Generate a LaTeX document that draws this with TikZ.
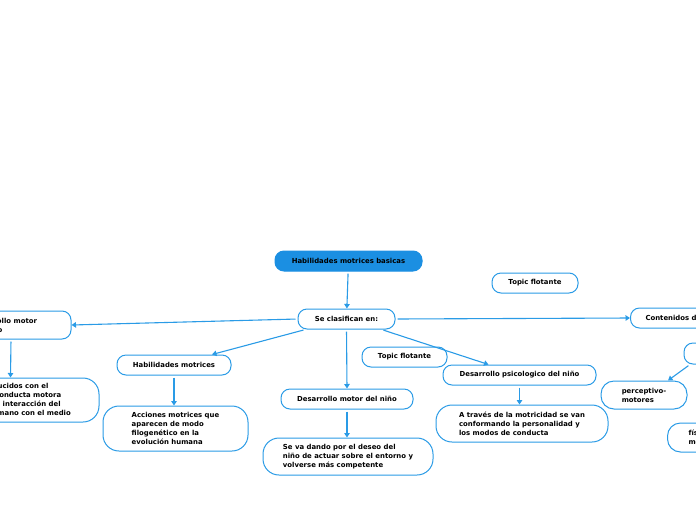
\documentclass[tikz,border=0pt]{standalone}
\usepackage{fontspec}
\setmainfont{DejaVu Sans}
\usetikzlibrary{arrows.meta,calc}
\definecolor{mblue}{HTML}{2A9BE6}
\definecolor{rootfill}{HTML}{1B8FE2}
\begin{document}
\begin{tikzpicture}[x=1pt,y=-1pt,
  topic/.style={draw=mblue,line width=1pt,rounded corners=9pt,fill=white,
    inner sep=0pt,font=\fontsize{6.9}{9}\selectfont\bfseries,align=left},
  big/.style={topic,rounded corners=16pt},
  arr/.style={draw=mblue,line width=1.1pt,-{Triangle[width=5.5pt,length=4.5pt]},shorten <=2pt}]
\useasboundingbox (0,0) rectangle (696,520);
% nodes
\node[topic,fill=rootfill,draw=rootfill,minimum width=147pt,minimum height=20pt] (root) at (348.5,261) {Habilidades motrices basicas};
\node[topic,minimum width=97pt,minimum height=20pt] (se) at (346.5,319) {Se clasifican en:};
\node[topic,minimum width=134pt,minimum height=28pt] (dmh) at (4,325) {Desarrollo motor\\humano};
\node[big,minimum width=183pt,minimum height=44pt] (camb) at (7.5,400) {Cambios producidos con el\\tiempo en la conducta motora\\que reflejan la interacción del\\organismo humano con el medio};
\node[topic,minimum width=114pt,minimum height=20pt] (hm) at (174,365) {Habilidades motrices};
\node[big,minimum width=145pt,minimum height=45pt] (acc) at (175.5,428.5) {Acciones motrices que\\aparecen de modo\\filogenético en la\\evolución humana};
\node[topic,minimum width=132pt,minimum height=20pt] (dmn) at (347,399) {Desarrollo motor del niño};
\node[big,minimum width=170pt,minimum height=37pt] (seva) at (348,456.5) {Se va dando por el deseo del\\niño de actuar sobre el entorno y\\volverse más competente};
\node[topic,minimum width=85pt,minimum height=20pt] (tf1) at (404.5,357) {Topic flotante};
\node[topic,minimum width=153pt,minimum height=20pt] (dpn) at (519.5,375) {Desarrollo psicologico del niño};
\node[big,minimum width=172pt,minimum height=37pt] (atr) at (522,423.5) {A través de la motricidad se van\\conformando la personalidad y\\los modos de conducta};
\node[topic,minimum width=86pt,minimum height=20pt] (tf2) at (535,283) {Topic flotante};
\node[topic,minimum height=20pt,anchor=west,inner xsep=15pt] (cont) at (630,318) {Contenidos de la motricidad};
\node[topic,minimum width=72pt,minimum height=21pt] (tr) at (720,353.5) {};
\node[big,rounded corners=13pt,minimum width=86pt,minimum height=28pt] (perc) at (644,395) {perceptivo-\\motores};
\node[big,rounded corners=13pt,minimum height=29pt,anchor=west,inner xsep=21pt] (fis) at (667,437.5) {físico-\\motores};
% connectors
\draw[arr] (root) -- (se);
\draw[arr] (se.west) -- (dmh.east);
\draw[arr] ([xshift=-41pt]se.south) -- ([xshift=38pt]hm.north);
\draw[arr] (se.south) -- (dmn.north);
\draw[arr] ([xshift=35pt]se.south) -- ([xshift=-31pt]dpn.north);
\draw[arr] (se.east) -- (cont.west);
\draw[arr] ([xshift=7pt]dmh.south) -- ([xshift=3pt]camb.north);
\draw[arr] (hm.south) -- (hm.south |- acc.north);
\draw[arr] (dmn.south) -- (dmn.south |- seva.north);
\draw[arr] (dpn.south) -- (dpn.south |- atr.north);
\draw[arr] ([xshift=-30pt]tr.south) -- ([xshift=24pt]perc.north);
\end{tikzpicture}
\end{document}
